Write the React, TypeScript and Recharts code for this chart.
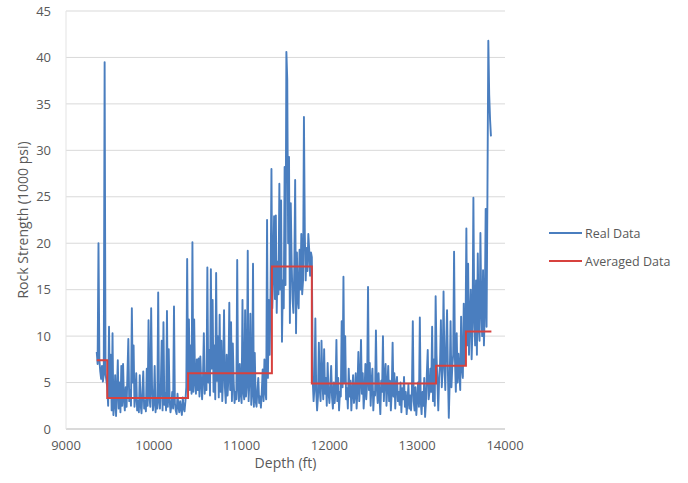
import React from "react";
import { LineChart, Line, XAxis, YAxis, CartesianGrid, Label } from "recharts";

// depth sampling of the log (ft)
const DEPTH_START = 9350;
const DEPTH_STEP = 10;

// rock strength (1000 psi), one row per 100 ft starting at the depth in the comment
const strength = [
  /* 9350 */ 8.3, 7.0, 20.0, 7.5, 6.2, 5.4, 6.8, 5.1, 5.8, 39.5,
  /* 9450 */ 6.0, 5.2, 4.5, 2.5, 11.0, 3.5, 8.0, 2.0, 10.3, 1.5,
  /* 9550 */ 2.6, 5.8, 1.4, 4.0, 7.4, 2.2, 5.0, 1.8, 6.8, 2.5,
  /* 9650 */ 7.0, 3.2, 2.0, 4.5, 2.4, 6.0, 9.7, 3.0, 4.2, 2.5,
  /* 9750 */ 13.0, 5.0, 9.0, 2.4, 3.5, 6.0, 2.0, 3.0, 1.8, 5.8,
  /* 9850 */ 2.6, 1.7, 4.0, 6.2, 2.2, 3.0, 1.9, 6.5, 2.5, 11.7,
  /* 9950 */ 3.5, 2.4, 13.0, 4.5, 2.0, 2.8, 6.8, 1.8, 3.2, 2.2,
  /* 10050 */ 14.7, 3.0, 2.2, 4.6, 9.5, 2.0, 11.5, 2.6, 3.8, 2.0,
  /* 10150 */ 12.7, 2.4, 8.6, 3.2, 1.8, 2.5, 4.0, 2.2, 13.2, 2.8,
  /* 10250 */ 2.0, 1.6, 3.8, 2.5, 1.8, 3.0, 2.2, 1.5, 3.4, 2.2,
  /* 10350 */ 1.9, 3.0, 4.5, 18.3, 6.0, 11.8, 4.2, 9.0, 3.8, 20.1,
  /* 10450 */ 4.0, 11.8, 5.0, 3.8, 7.5, 4.2, 7.6, 3.5, 7.8, 5.0,
  /* 10550 */ 3.2, 5.5, 10.3, 3.8, 6.0, 4.2, 17.4, 5.0, 8.5, 3.6,
  /* 10650 */ 17.2, 6.5, 13.9, 4.0, 9.0, 3.2, 16.8, 5.2, 10.0, 3.4,
  /* 10750 */ 12.3, 4.0, 9.5, 3.0, 6.0, 12.8, 4.5, 2.8, 8.0, 3.6,
  /* 10850 */ 5.5, 13.6, 4.2, 11.5, 3.0, 9.2, 5.0, 2.8, 4.0, 3.2,
  /* 10950 */ 18.2, 4.5, 3.0, 7.0, 3.8, 2.8, 13.9, 4.0, 3.2, 12.8,
  /* 11050 */ 3.5, 4.8, 19.2, 3.0, 5.5, 12.4, 2.6, 3.8, 17.8, 2.4,
  /* 11150 */ 8.2, 3.0, 2.4, 4.2, 5.5, 2.8, 3.5, 2.3, 4.0, 6.4,
  /* 11250 */ 3.0, 7.5, 4.0, 3.2, 22.5, 5.5, 13.9, 8.0, 15.0, 28.0,
  /* 11350 */ 13.0, 17.0, 22.9, 14.0, 23.0, 12.5, 18.0, 14.5, 26.4, 15.0,
  /* 11450 */ 24.6, 9.4, 16.0, 13.0, 28.2, 15.5, 40.6, 37.6, 20.0, 29.3,
  /* 11550 */ 11.4, 24.3, 18.0, 14.0, 12.5, 17.0, 26.8, 10.3, 19.0, 14.0,
  /* 11650 */ 13.0, 19.3, 15.0, 21.0, 14.5, 16.0, 33.6, 21.0, 16.0, 19.5,
  /* 11750 */ 17.0, 21.0, 19.3, 16.5, 19.0, 18.5, 5.3, 3.0, 4.5, 11.9,
  /* 11850 */ 4.0, 2.0, 3.5, 9.3, 4.2, 3.0, 9.5, 5.0, 3.2, 8.6,
  /* 11950 */ 3.8, 5.5, 2.5, 7.1, 4.0, 2.8, 4.5, 6.8, 3.4, 2.2,
  /* 12050 */ 5.0, 2.8, 4.2, 9.6, 3.0, 5.5, 2.0, 4.0, 3.5, 11.6,
  /* 12150 */ 4.5, 16.4, 5.0, 10.0, 3.2, 4.4, 2.2, 6.5, 3.5, 5.2,
  /* 12250 */ 2.0, 4.0, 5.8, 2.8, 3.6, 6.0, 2.2, 4.5, 8.3, 3.0,
  /* 12350 */ 5.0, 9.6, 3.8, 6.0, 2.2, 4.0, 7.0, 3.2, 5.0, 15.3,
  /* 12450 */ 4.2, 7.1, 2.5, 5.0, 6.5, 2.0, 4.0, 3.6, 10.6, 4.5,
  /* 12550 */ 2.8, 6.0, 3.5, 1.6, 5.2, 4.0, 10.0, 3.0, 5.5, 7.0,
  /* 12650 */ 2.5, 4.6, 6.8, 3.0, 5.2, 2.0, 4.0, 9.3, 3.5, 6.0,
  /* 12750 */ 2.2, 4.8, 5.6, 3.0, 4.0, 2.6, 5.0, 1.8, 4.4, 3.2,
  /* 12850 */ 5.6, 2.4, 4.0, 1.6, 3.0, 4.8, 2.2, 3.6, 2.0, 4.2,
  /* 12950 */ 11.6, 3.0, 2.0, 4.5, 1.5, 3.2, 5.0, 2.4, 12.0, 3.0,
  /* 13050 */ 1.6, 4.0, 2.5, 5.5, 1.3, 3.0, 6.0, 8.5, 3.2, 4.0,
  /* 13150 */ 6.5, 4.0, 11.0, 3.0, 7.5, 2.5, 14.3, 8.0, 5.0, 2.0,
  /* 13250 */ 5.5, 7.0, 11.7, 4.5, 6.5, 14.8, 7.1, 4.2, 9.0, 12.8,
  /* 13350 */ 6.0, 1.2, 5.0, 11.6, 4.5, 6.8, 8.0, 19.1, 7.5, 4.0,
  /* 13450 */ 10.3, 5.0, 8.1, 6.0, 4.2, 12.1, 6.5, 5.5, 13.5, 7.0,
  /* 13550 */ 10.0, 21.6, 9.0, 17.8, 8.0, 12.0, 15.0, 7.5, 11.0, 24.9,
  /* 13650 */ 12.0, 9.0, 16.0, 8.0, 18.9, 11.0, 9.5, 21.1, 13.0, 10.0,
  /* 13750 */ 17.1, 9.0, 13.0, 23.7, 11.0, 25.3, 41.8, 36.0, 33.3, 31.5,
];

// averaged zones: top depth of each zone and its mean strength (last entry closes the final step)
const zoneDepths = [9350, 9470, 10390, 11345, 11800, 13215, 13555, 13845];
const zoneMeans = [7.4, 3.35, 6.0, 17.5, 4.9, 6.8, 10.5, 10.5];

const xTicks = [9000, 10000, 11000, 12000, 13000, 14000];
const yTicks = [0, 5, 10, 15, 20, 25, 30, 35, 40, 45];

const BLUE = "#4A7EBF";
const RED = "#D7413E";
const TEXT = "#595959";
const FONT = "'Open Sans', sans-serif";

const realData = strength.map((v, i) => ({ depth: DEPTH_START + i * DEPTH_STEP, value: v }));
const avgData = zoneDepths.map((d, i) => ({ depth: d, value: zoneMeans[i] }));

const legendItems = [
  { name: "Real Data", color: BLUE },
  { name: "Averaged Data", color: RED },
];

function YTitle(props: any) {
  const vb = props.viewBox;
  const cx = vb.x + 2;
  const cy = vb.y + vb.height / 2;
  return (
    <text
      transform={`translate(${cx}, ${cy}) rotate(-90)`}
      textAnchor="middle"
      dominantBaseline="central"
      fill={TEXT}
      fontSize={14}
      fontFamily={FONT}
    >
      Rock Strength (1000 psi)
    </text>
  );
}

function XTitle(props: any) {
  const vb = props.viewBox;
  return (
    <text
      x={vb.x + vb.width / 2}
      y={vb.y + 33}
      textAnchor="middle"
      dominantBaseline="central"
      fill={TEXT}
      fontSize={14}
      fontFamily={FONT}
    >
      Depth (ft)
    </text>
  );
}

function LegendBox() {
  return (
    <div
      style={{
        position: "absolute",
        left: 549,
        top: 219,
        fontFamily: FONT,
        fontSize: 12.5,
        color: TEXT,
      }}
    >
      {legendItems.map((it) => (
        <div key={it.name} style={{ display: "flex", alignItems: "center", height: 28 }}>
          <svg width={34} height={6} style={{ marginRight: 2 }}>
            <line x1={0} y1={3} x2={33} y2={3} stroke={it.color} strokeWidth={2.2} />
          </svg>
          <span>{it.name}</span>
        </div>
      ))}
    </div>
  );
}

export default function App() {
  return (
    <div style={{ position: "absolute", left: 0, top: 0, width: 688, height: 483, background: "#fff" }}>
      <LineChart
        width={688}
        height={483}
        margin={{ top: 11, right: 183, bottom: 24, left: 20 }}
        style={{ fontFamily: FONT }}
      >
        <CartesianGrid vertical={false} stroke="#D9D9D9" />
        <XAxis
          dataKey="depth"
          type="number"
          domain={[9000, 14000]}
          ticks={xTicks}
          height={30}
          stroke="#C8C8C8"
          tickLine={false}
          tickSize={0}
          tickMargin={12}
          tick={{ fill: TEXT, fontSize: 13 }}
        >
          <Label content={<XTitle />} />
        </XAxis>
        <YAxis
          type="number"
          domain={[0, 45]}
          ticks={yTicks}
          width={46}
          stroke="#E3E3E3"
          tickLine={false}
          tickSize={0}
          tickMargin={15}
          tick={{ fill: TEXT, fontSize: 13 }}
        >
          <Label content={<YTitle />} />
        </YAxis>
        <Line
          data={realData}
          dataKey="value"
          name="Real Data"
          stroke={BLUE}
          strokeWidth={1.9}
          strokeLinejoin="round"
          dot={false}
          activeDot={false}
          isAnimationActive={false}
        />
        <Line
          data={avgData}
          dataKey="value"
          name="Averaged Data"
          type="stepAfter"
          stroke={RED}
          strokeWidth={2}
          dot={false}
          activeDot={false}
          isAnimationActive={false}
        />
      </LineChart>
      <LegendBox />
    </div>
  );
}
